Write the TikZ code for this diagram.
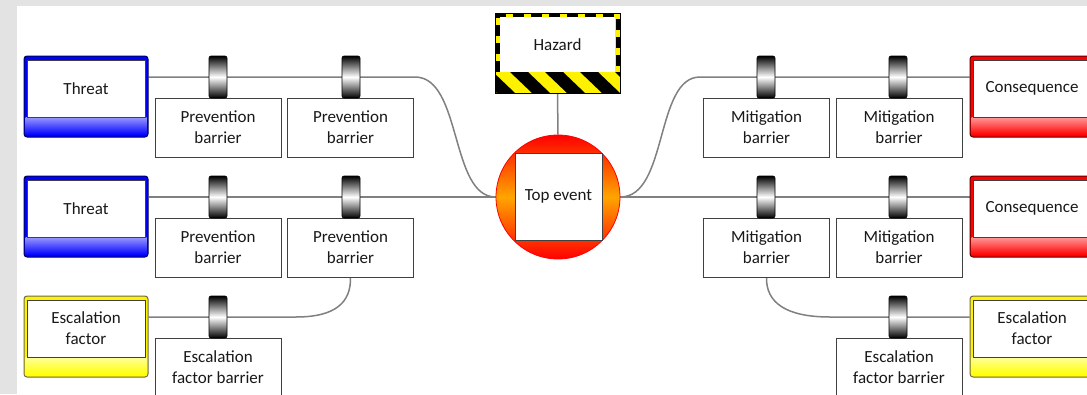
\documentclass[tikz,border=0pt]{standalone}
\usepackage{fontspec}
\setmainfont{Carlito}
\usetikzlibrary{calc}
\pgfdeclarelayer{bg}
\pgfsetlayers{bg,main}
\newcommand\lblfont{\fontsize{17}{21}\selectfont}
\definecolor{teorange}{HTML}{FFA500}
\begin{document}
\begin{tikzpicture}[x=1pt,y=-1pt,
  conn/.style={draw=black!50, line width=1.5pt},
  inbox/.style={draw=black!75, fill=white, line width=0.9pt, inner sep=0pt, align=center, font=\lblfont, text=black!90},
  barbox/.style={inbox, minimum width=126pt, minimum height=59pt},
  widget/.style={draw=black, line width=0.6pt, rounded corners=2pt, top color=black, bottom color=black, middle color=white, minimum width=18pt, minimum height=42pt, inner sep=0pt},
  frame/.style={draw=#1!35!black, line width=1pt, rounded corners=3pt, fill=#1, minimum width=124pt, minimum height=81pt, inner sep=0pt},
  innerbox/.style={inbox, minimum width=118pt, minimum height=57pt},
]
\useasboundingbox (0,0) rectangle (1087,394);
\clip (0,0) rectangle (1087,394);

% ---------- left frames ----------
\node[frame=blue] (t1f) at (86,96.5) {};
\shade[top color=blue!40!white, bottom color=blue] (25.5,117) rectangle (146.5,135);
\node[innerbox] (t1) at (86,88.5) {Threat};

\node[frame=blue] (t2f) at (86,216.5) {};
\shade[top color=blue!40!white, bottom color=blue] (25.5,237) rectangle (146.5,255);
\node[innerbox] (t2) at (86,208.5) {Threat};

\node[frame=yellow] (e1f) at (86,336.5) {};
\shade[top color=yellow!40!white, bottom color=yellow] (25.5,357) rectangle (146.5,375);
\node[innerbox] (e1) at (86,328.5) {Escalation\\factor};

% ---------- right frames ----------
\node[frame=red] (c1f) at (1032,96.5) {};
\shade[top color=red!40!white, bottom color=red] (971.5,117) rectangle (1092.5,135);
\node[innerbox] (c1) at (1032,88.5) {Consequence};

\node[frame=red] (c2f) at (1032,216.5) {};
\shade[top color=red!40!white, bottom color=red] (971.5,237) rectangle (1092.5,255);
\node[innerbox] (c2) at (1032,208.5) {Consequence};

\node[frame=yellow] (e2f) at (1032,336.5) {};
\shade[top color=yellow!40!white, bottom color=yellow] (971.5,357) rectangle (1092.5,375);
\node[innerbox] (e2) at (1032,328.5) {Escalation\\factor};

% ---------- barrier boxes ----------
\node[barbox] (p11) at (218,127.5) {Prevention\\barrier};
\node[barbox] (p12) at (350.5,127.5) {Prevention\\barrier};
\node[barbox] (p21) at (218,247.5) {Prevention\\barrier};
\node[barbox] (p22) at (350.5,247.5) {Prevention\\barrier};
\node[barbox] (eb1) at (218,367.5) {Escalation\\factor barrier};

\node[barbox] (m11) at (766.5,127.5) {Mitigation\\barrier};
\node[barbox] (m12) at (899,127.5) {Mitigation\\barrier};
\node[barbox] (m21) at (766.5,247.5) {Mitigation\\barrier};
\node[barbox] (m22) at (899,247.5) {Mitigation\\barrier};
\node[barbox] (eb2) at (899,367.5) {Escalation\\factor barrier};

% ---------- hazard ----------
\fill[yellow] (495,13) rectangle (620,93);
\begin{scope}
  \clip (495,72) rectangle (620,93);
  \foreach \i in {0,...,4} {
    \fill[black] ({475+\i*35},72) -- ({493+\i*35},72) -- ({515+\i*35},93) -- ({497+\i*35},93) -- cycle;
  }
\end{scope}
\draw[black, line width=4pt, dash pattern=on 11pt off 7pt] (497.5,72) -- (497.5,15.5) -- (617.5,15.5) -- (617.5,72);
\node[draw=black, line width=1pt, minimum width=125pt, minimum height=80pt, inner sep=0pt] (hz) at (557.5,53) {};
\node[inbox, draw=none, minimum width=115pt, minimum height=55pt] (hzin) at (557.5,44.5) {Hazard};

% ---------- top event ----------
\node[circle, draw=red, line width=0.8pt, minimum size=124pt, inner sep=0pt, top color=red, bottom color=red, middle color=teorange] (te) at (558,197) {};
\node[inbox, minimum width=87pt, minimum height=87pt] (tein) at (558.5,196.5) {Top event};

% ---------- barrier widgets ----------
\node[widget] (wp11) at (218,77) {};
\node[widget] (wp12) at (351,77) {};
\node[widget] (wp21) at (218,197) {};
\node[widget] (wp22) at (351,197) {};
\node[widget] (we1) at (218,317) {};
\node[widget] (wm11) at (766,77) {};
\node[widget] (wm12) at (898,77) {};
\node[widget] (wm21) at (766,197) {};
\node[widget] (wm22) at (898,197) {};
\node[widget] (we2) at (898,317) {};

% ---------- background and connectors ----------
\begin{pgfonlayer}{bg}
  \fill[black!11] (0,0) rectangle (1087,394);
  \fill[white] (17,6) rectangle (1087,394);
  \draw[conn] (t1f.east |- wp11.center) -- (415,77) .. controls (462,77) and (450,197) .. (te.west);
  \draw[conn] (t2f.east |- wp21.center) -- (te.west);
  \draw[conn] (e1f.east |- we1.center) -- (296,317) .. controls (336,317) and (351,302) .. (p22.south);
  \draw[conn] (te.east) .. controls (668,197) and (655,77) .. (700,77) -- (c1f.west |- wm11.center);
  \draw[conn] (te.east) -- (c2f.west |- wm21.center);
  \draw[conn] (m21.south) .. controls (766,302) and (785,317) .. (830,317) -- (e2f.west |- we2.center);
  \draw[conn] (hz.south) -- (te.north);
\end{pgfonlayer}
\end{tikzpicture}
\end{document}
